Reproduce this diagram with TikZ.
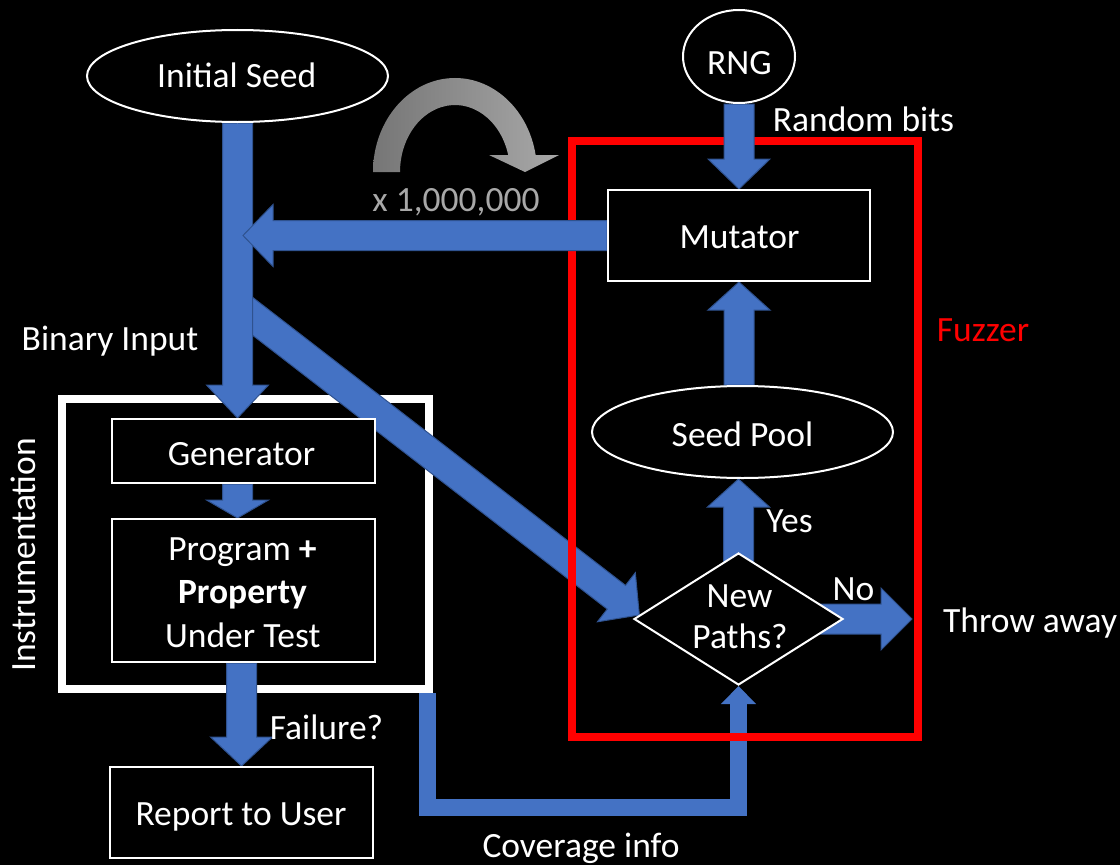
\documentclass[tikz,border=0pt]{standalone}
\usepackage{fontspec}
\setmainfont{Carlito}
\usetikzlibrary{calc,shapes.geometric,arrows.meta}

\definecolor{flowblue}{HTML}{4472C4}
\definecolor{flowedge}{HTML}{2F528F}
\definecolor{fuzzred}{HTML}{FF0000}
\definecolor{loopgray}{HTML}{A8A8A8}
\definecolor{loopdark}{HTML}{767676}

\pgfdeclarelayer{bg}
\pgfdeclarelayer{front}
\pgfsetlayers{bg,main,front}

% Block arrow: [style]{from}{to}{head length in bp}
\newcommand\blockarrow[4][]{%
  \coordinate (bah) at ($(#3)!#4bp!(#2)$);
  \filldraw[barrow,#1]
    ($(#2)!15bp!90:(#3)$) -- ($(bah)!15bp!90:(#3)$) -- ($(bah)!31bp!90:(#3)$)
    -- (#3)
    -- ($(bah)!31bp!-90:(#3)$) -- ($(bah)!15bp!-90:(#3)$) -- ($(#2)!15bp!-90:(#3)$)
    -- cycle;
}

\tikzset{
  lbl/.style={text=white, font=\fontsize{35.5bp}{43.5bp}\selectfont, inner sep=0pt, anchor=base},
  oval/.style={ellipse, draw=white, line width=2bp, fill=black, inner sep=0pt},
  stepbox/.style={rectangle, draw=white, line width=2bp, fill=black, inner sep=0pt},
  decision/.style={diamond, draw=white, line width=2bp, fill=black, inner sep=0pt},
  frame/.style={rectangle, draw=#1, line width=8bp, inner sep=0pt},
  barrow/.style={fill=flowblue, draw=flowedge, line width=1bp, line join=miter},
  coverline/.style={draw=flowblue, line width=17bp, line join=miter,
    -{Triangle[width=34bp,length=18bp]}},
}

\begin{document}
\begin{tikzpicture}[x=1bp, y=-1bp]
\useasboundingbox (0,0) rectangle (1120,865);
\begin{pgfonlayer}{bg}
  \fill[black] (0,0) rectangle (1120,865);
\end{pgfonlayer}

% ---------- shapes (drawn above the arrows) ----------
\begin{pgfonlayer}{front}
  \node[oval, minimum width=301bp, minimum height=92bp] (seed) at (237.5,76) {};
  \node[oval, minimum width=112bp, minimum height=93bp] (rng) at (739,56.5) {};
  \node[stepbox, minimum width=262bp, minimum height=91bp] (mut) at (739,235.5) {};
  \node[oval, minimum width=301bp, minimum height=92bp] (pool) at (742.5,432) {};
  \node[decision, minimum width=209bp, minimum height=132bp] (diam) at (738.5,619) {};
  \node[stepbox, minimum width=263bp, minimum height=64bp] (gen) at (243.5,451) {};
  \node[stepbox, minimum width=263bp, minimum height=143bp] (prog) at (243.5,590.5) {};
  \node[stepbox, minimum width=263bp, minimum height=91bp] (rep) at (241.5,812.5) {};

  % texts
  \node[lbl] (seed-t) at (236.7,87) {Initial Seed};
  \node[lbl] (rng-t) at (739.5,74) {RNG};
  \node[lbl] (mut-t) at (739.5,248) {Mutator};
  \node[lbl] (pool-t) at (742.5,446) {Seed Pool};
  \node[lbl] (new-t) at (739.5,607) {New};
  \node[lbl] (paths-t) at (740,648) {Paths?};
  \node[lbl] (gen-t) at (241.5,465) {Generator};
  \node[lbl] (prog-t1) at (242.5,560) {Program \textbf{+}};
  \node[lbl] (prog-t2) at (242.5,603) {\textbf{Property}};
  \node[lbl] (prog-t3) at (242.8,647) {Under Test};
  \node[lbl] (rep-t) at (241,825) {Report to User};

  \node[lbl] (bin-t) at (110,350) {Binary Input};
  \node[lbl, text=loopgray] (loop-t) at (456,211) {x 1,000,000};
  \node[lbl] (rand-t) at (863.5,131) {Random bits};
  \node[lbl, text=fuzzred] (fuzz-t) at (983,341) {Fuzzer};
  \node[lbl] (yes-t) at (789.5,532) {Yes};
  \node[lbl, fill=black] (no-t) at (853.5,600) {No};
  \node[lbl, anchor=base west] (throw-t) at (943,632) {Throw away};
  \node[lbl] (fail-t) at (326.5,739) {Failure?};
  \node[lbl] (cov-t) at (581,857) {Coverage info};
  \node[lbl, rotate=90] (instr-t) at (35,555) {Instrumentation};
\end{pgfonlayer}

% ---------- instrumentation frame ----------
\node[frame=white, minimum width=367bp, minimum height=290bp] (inst) at (245.5,544) {};

% ---------- connection points ----------
\coordinate (split) at (238,305);
\coordinate (dtip) at ($(diam.west)!0.06!(diam.north)$);
\coordinate (gin) at (seed.south |- gen.north);
\coordinate (gout) at (seed.south |- gen.south);
\coordinate (pin) at (seed.south |- prog.north);
\coordinate (pout) at (rep.north |- prog.south);
\coordinate (mleft) at (243,235.5);
\coordinate (poolout) at (mut.south |- pool.north);
\coordinate (poolin) at (diam.north |- pool.south);
\coordinate (away) at ($(diam.east)+(68,0)$);
\coordinate (cov1) at ($(inst.south east)+(-6,0)$);
\coordinate (covb) at ($(diam.south)+(0,121)$);

% ---------- arrows below the fuzzer frame ----------
\blockarrow{split}{dtip}{29}
\draw[coverline] (cov1) |- (covb) -- (diam.south);

% ---------- fuzzer frame ----------
\node[frame=fuzzred, minimum width=346bp, minimum height=596bp] (fuzz) at (745,439) {};

% ---------- repeat loop marker ----------
\begin{scope}[shift={(455,172)}, y=1bp]
  \shade[left color=loopdark, right color=loopgray]
    (-82,0) arc[start angle=180, end angle=10.4, x radius=82bp, y radius=94bp]
    -- (104,17) -- (70,0) -- (34,17) -- (53.2,17)
    arc[start angle=14.7, end angle=180, x radius=55bp, y radius=67bp] -- cycle;
\end{scope}

% ---------- block arrows ----------
\blockarrow{seed.south}{gin}{33}
\blockarrow{gout}{pin}{18}
\blockarrow{pout}{rep.north}{29}
\blockarrow{rng.south}{mut.north}{30}
\blockarrow{poolout}{mut.south}{28}
\blockarrow{diam.center}{poolin}{28}
\blockarrow{diam.center}{away}{31}
\blockarrow{mut.west}{mleft}{30}
\end{tikzpicture}
\end{document}
